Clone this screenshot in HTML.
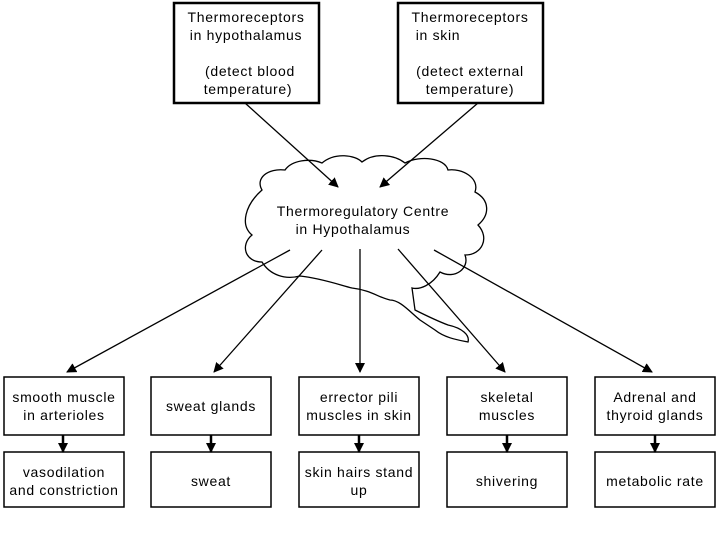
<!DOCTYPE html><html><head><style>body{margin:0;background:#fff}svg text{font-family:"Liberation Sans",sans-serif;fill:#000;letter-spacing:0.7px}</style></head><body>
<svg width="720" height="540" xmlns="http://www.w3.org/2000/svg">
<defs><marker id="a" markerWidth="10" markerHeight="10" refX="9" refY="5" orient="auto" markerUnits="userSpaceOnUse"><path d="M0,0 L10,5 L0,10 Z" fill="#000"/></marker></defs>
<g fill="none" stroke="#000" stroke-width="2.5">
<rect x="174" y="3" width="145" height="100"/><rect x="398" y="3" width="145" height="100"/>
</g>
<g font-size="14" text-anchor="middle">
<text x="246" y="22">Thermoreceptors</text><text x="246" y="40">in hypothalamus</text><text x="250" y="76">(detect blood</text><text x="248" y="94">temperature)</text>
<text x="470" y="22">Thermoreceptors</text><text x="438" y="40">in skin</text><text x="470" y="76">(detect external</text><text x="470" y="94">temperature)</text>
</g>
<path d="M262,190 C255,178 268,168 285,170 C292,160 310,158 322,163 C335,152 355,155 362,162 C375,152 395,155 405,163 C420,155 445,158 448,170 C462,168 480,178 475,192 C490,200 490,215 478,225 C490,238 482,255 465,255 C470,268 455,280 440,272 C432,285 420,290 412,288 L415,310 C425,315 440,322 448,325 C462,328 470,335 468,342 C458,340 445,338 435,330 L420,320 C410,312 400,300 390,300 C380,298 370,290 352,288 C340,285 320,278 300,276 C285,280 270,275 262,262 C245,262 240,245 252,235 C240,225 245,205 262,190 Z" fill="none" stroke="#000" stroke-width="1.3"/>
<g font-size="14" text-anchor="middle"><text x="363" y="216">Thermoregulatory Centre</text><text x="353" y="234">in Hypothalamus</text></g>
<g stroke="#000" stroke-width="1.3" marker-end="url(#a)">
<line x1="245" y1="103" x2="338" y2="187"/><line x1="478" y1="103" x2="380" y2="187"/>
<line x1="290" y1="250" x2="67" y2="372"/><line x1="322" y1="250" x2="214" y2="372"/>
<line x1="360" y1="249" x2="360" y2="372"/><line x1="398" y1="249" x2="505" y2="372"/>
<line x1="434" y1="250" x2="652" y2="372"/>
</g>
<g stroke="#000" stroke-width="2.5" marker-end="url(#a)">
<line x1="63" y1="435" x2="63" y2="452"/><line x1="211" y1="435" x2="211" y2="452"/><line x1="359" y1="435" x2="359" y2="452"/><line x1="507" y1="435" x2="507" y2="452"/><line x1="655" y1="435" x2="655" y2="452"/>
</g>
<g fill="none" stroke="#000" stroke-width="1.5">
<rect x="4" y="377" width="120" height="58"/><rect x="151" y="377" width="120" height="58"/><rect x="299" y="377" width="120" height="58"/><rect x="447" y="377" width="120" height="58"/><rect x="595" y="377" width="120" height="58"/>
<rect x="4" y="452" width="120" height="55"/><rect x="151" y="452" width="120" height="55"/><rect x="299" y="452" width="120" height="55"/><rect x="447" y="452" width="120" height="55"/><rect x="595" y="452" width="120" height="55"/>
</g>
<g font-size="14" text-anchor="middle">
<text x="64" y="402">smooth muscle</text><text x="64" y="420">in arterioles</text>
<text x="211" y="411">sweat glands</text>
<text x="359" y="402">errector pili</text><text x="359" y="420">muscles in skin</text>
<text x="507" y="402">skeletal</text><text x="507" y="420">muscles</text>
<text x="655" y="402">Adrenal and</text><text x="655" y="420">thyroid glands</text>
<text x="64" y="477">vasodilation</text><text x="64" y="495">and constriction</text>
<text x="211" y="486">sweat</text>
<text x="359" y="477">skin hairs stand</text><text x="359" y="495">up</text>
<text x="507" y="486">shivering</text>
<text x="655" y="486">metabolic rate</text>
</g>
</svg></body></html>
